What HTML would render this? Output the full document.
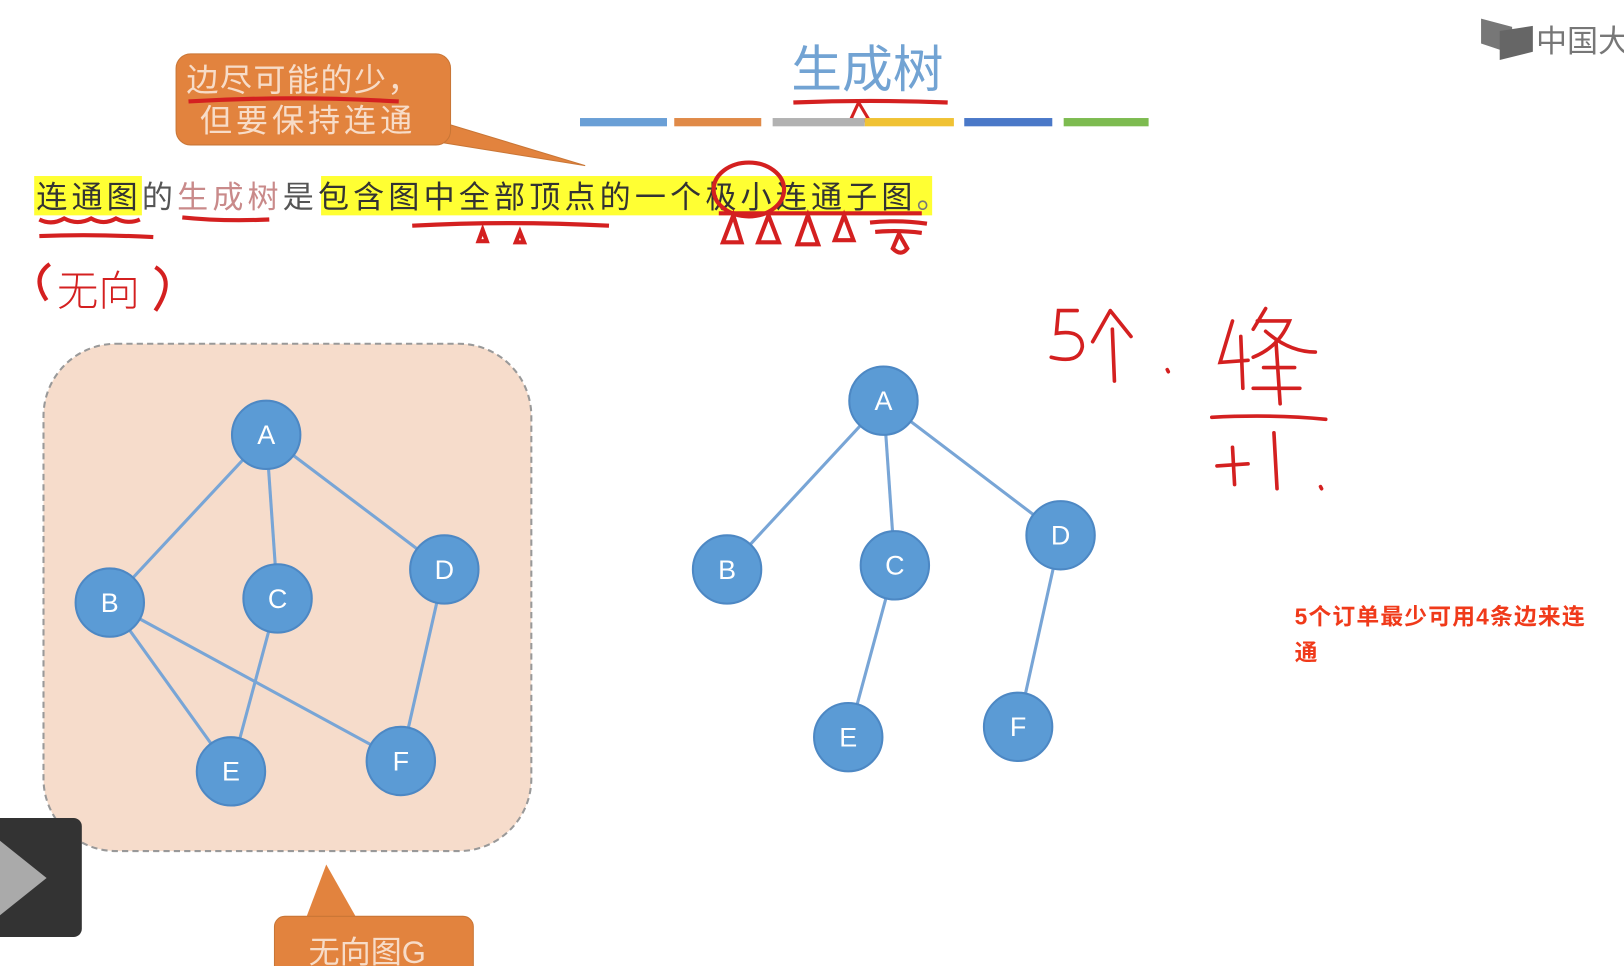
<!DOCTYPE html>
<html><head><meta charset="utf-8">
<style>html,body{margin:0;padding:0;background:#fff;overflow:hidden}svg{display:block}</style>
</head><body>
<svg width="1624" height="966" viewBox="0 0 1568 933" preserveAspectRatio="none" xmlns="http://www.w3.org/2000/svg" font-family="'Liberation Sans','Noto Sans CJK SC',sans-serif">
<rect width="1568" height="933" fill="#fff"/>
<g fill="#777">
<path d="M1430 18 L1460 26 L1460 52 L1430 42 Z"/>
<path d="M1448 30 L1480 25 L1480 50 L1448 58 Z" fill="#666"/>
</g>
<text x="1483" y="50" font-size="30" fill="#777">中国大</text>
<text x="764" y="84" font-size="49" fill="#72a3d3">生成树</text>
<path d="M766 99 Q840 96 915 99" stroke="#d42020" stroke-width="4" fill="none"/>
<path d="M829 99 L822 114 Q830 122 838 114 Z" stroke="#d42020" stroke-width="3" fill="none"/>
<g>
<rect x="560" y="114" width="84" height="8" fill="#6a9fd6"/>
<rect x="651" y="114" width="84" height="8" fill="#e08a48"/>
<rect x="746" y="114" width="89" height="8" fill="#b2b2b2"/>
<rect x="835" y="114" width="86" height="8" fill="#f0c234"/>
<rect x="931" y="114" width="85" height="8" fill="#4a78c8"/>
<rect x="1027" y="114" width="82" height="8" fill="#7dbb50"/>
</g>
<path d="M400 110 L565 160 L410 135 Z" fill="#e2833e" stroke="#c97636"/>
<rect x="170" y="52" width="265" height="88" rx="14" fill="#e2833e" stroke="#c97636"/>
<text x="180" y="88" font-size="31" fill="#f7dcc8" textLength="225">边尽可能的少，</text>
<text x="193" y="127" font-size="31" fill="#f7dcc8" textLength="205">但要保持连通</text>
<path d="M182 98 Q280 92 385 98" stroke="#d42020" stroke-width="4" fill="none"/>
<rect x="33" y="170" width="104" height="38" fill="#ffff33"/>
<rect x="310" y="170" width="590" height="38" fill="#ffff33"/>
<text x="35" y="201" font-size="30" fill="#333" textLength="880" lengthAdjust="spacing">连通图<tspan fill="#555">的</tspan><tspan fill="#c98a8a">生成树</tspan><tspan fill="#555">是</tspan>包含图中全部顶点的一个极小连通子图<tspan fill="#777">。</tspan></text>
<g stroke="#d42020" stroke-width="4" fill="none">
<path d="M38 212 Q50 218 62 211 Q75 218 88 211 Q100 218 112 211 Q124 217 135 212"/>
<path d="M38 228 Q90 226 148 229"/>
<path d="M176 210 Q215 214 260 212"/>
<path d="M398 218 Q490 213 588 218"/>
<path d="M466 222 L462 233 L470 233 Z M502 224 L498 234 L506 234 Z"/>
<ellipse cx="723" cy="183" rx="34" ry="26"/>
<path d="M694 206 L890 206"/>
<path d="M708 208 L698 234 L716 234 Z M742 208 L732 234 L752 234 Z M780 208 L770 236 L790 236 Z M815 208 L806 232 L824 232 Z"/>
<path d="M840 215 Q868 212 895 216 M845 224 Q868 222 890 225"/>
<path d="M868 226 L862 240 Q870 248 876 240 Z"/>
<path d="M48 255 Q30 268 45 290 M150 258 Q170 270 150 300"/>
</g>
<text x="55" y="295" font-size="40" fill="#d42020" font-family="'Noto Sans CJK SC',sans-serif" font-weight="300">无向</text>
<rect x="42" y="332" width="471" height="490" rx="70" fill="#f6dccb" stroke="#999" stroke-width="2" stroke-dasharray="6,4"/>
<g stroke="#78a5d6" stroke-width="3">
<line x1="257" y1="420" x2="106" y2="582"/><line x1="257" y1="420" x2="268" y2="578"/><line x1="257" y1="420" x2="429" y2="550"/>
<line x1="106" y1="582" x2="223" y2="745"/><line x1="106" y1="582" x2="387" y2="735"/><line x1="268" y1="578" x2="223" y2="745"/><line x1="429" y1="550" x2="387" y2="735"/>
<line x1="853" y1="387" x2="702" y2="550"/><line x1="853" y1="387" x2="864" y2="546"/><line x1="853" y1="387" x2="1024" y2="517"/>
<line x1="864" y1="546" x2="819" y2="712"/><line x1="1024" y1="517" x2="983" y2="702"/>
</g>
<g fill="#5b9bd5" stroke="#4d88c4" stroke-width="2">
<circle cx="257" cy="420" r="33"/><circle cx="106" cy="582" r="33"/><circle cx="268" cy="578" r="33"/><circle cx="429" cy="550" r="33"/><circle cx="223" cy="745" r="33"/><circle cx="387" cy="735" r="33"/>
<circle cx="853" cy="387" r="33"/><circle cx="702" cy="550" r="33"/><circle cx="864" cy="546" r="33"/><circle cx="1024" cy="517" r="33"/><circle cx="819" cy="712" r="33"/><circle cx="983" cy="702" r="33"/>
</g>
<g fill="#fff" font-size="26" text-anchor="middle">
<text x="257" y="429">A</text><text x="106" y="591">B</text><text x="268" y="587">C</text><text x="429" y="559">D</text><text x="223" y="754">E</text><text x="387" y="744">F</text>
<text x="853" y="396">A</text><text x="702" y="559">B</text><text x="864" y="555">C</text><text x="1024" y="526">D</text><text x="819" y="721">E</text><text x="983" y="711">F</text>
</g>
<path d="M295 888 L315 835 L345 888 Z" fill="#e2833e"/>
<rect x="265" y="885" width="192" height="60" rx="10" fill="#e2833e" stroke="#c97636"/>
<text x="298" y="930" font-size="30" fill="#f7dcc8">无向图G</text>
<rect x="-10" y="790" width="89" height="115" rx="8" fill="#333"/>
<path d="M0 812 L45 848 L0 884 Z" fill="#aaa"/>
<g stroke="#d42020" stroke-width="3.5" fill="none" stroke-linecap="round">
<path d="M1040 300 L1022 300 L1020 322 Q1045 318 1045 335 Q1042 352 1015 345"/>
<path d="M1072 300 L1055 330 M1072 300 L1092 325 M1074 318 L1076 368"/>
<path d="M1127 357 L1128 359"/>
<path d="M1190 310 L1178 350 L1205 348 M1198 325 L1200 375"/>
<path d="M1222 298 L1210 318 M1214 310 L1245 310 Q1235 335 1210 345 M1222 320 Q1245 340 1270 340 M1220 355 L1250 355 M1232 330 L1236 390 M1210 375 L1255 375"/>
<path d="M1170 403 Q1230 400 1280 405"/>
<path d="M1175 450 L1205 448 M1190 432 L1192 468 M1230 418 L1233 472 M1275 470 L1276 472"/>
</g>
<text x="1250" y="603" font-size="22" font-weight="bold" fill="#f03a1a" textLength="280">5个订单最少可用4条边来连</text>
<text x="1250" y="638" font-size="22" font-weight="bold" fill="#f03a1a">通</text>
</svg>
</body></html>
